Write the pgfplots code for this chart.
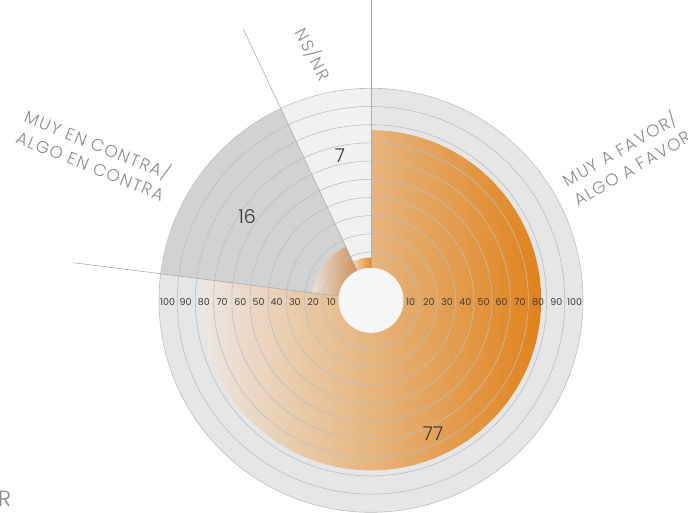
\documentclass[border=0pt]{standalone}
\usepackage{pgfplots}
\pgfplotsset{compat=1.18}
\usepackage{pgfplotstable}
\usepackage{fontspec}
\setmainfont{Poppins}
\newfontfamily\labfont{Poppins Light}[LetterSpace=8]
\newfontfamily\numfont{Poppins Light}

\definecolor{bgFavor}{HTML}{E5E6E8}
\definecolor{bgContra}{HTML}{D1D2D4}
\definecolor{bgNsnr}{HTML}{EFF1F3}
\definecolor{ringc}{HTML}{BEBEBE}
\definecolor{sepc}{HTML}{ABABAB}
\definecolor{holec}{HTML}{F5F6F6}
\definecolor{lightA}{HTML}{ECE8E4}
\definecolor{darkA}{HTML}{E0821B}
\definecolor{lightB}{HTML}{E8E0D8}
\definecolor{darkB}{HTML}{C9782C}
\definecolor{lightC}{HTML}{F2D6B8}
\definecolor{darkC}{HTML}{E68C26}
\definecolor{labc}{HTML}{8C8C8C}
\definecolor{tickc}{HTML}{3C3C3C}
\definecolor{valc}{HTML}{333333}

% share of answers, clockwise from 12 o'clock
\pgfplotstableread{
label  value
favor  77
contra 16
nsnr   7
}\datatable

\begin{document}
\begin{tikzpicture}
\pgfplotstablegetelem{0}{value}\of\datatable \let\vA\pgfplotsretval
\pgfplotstablegetelem{1}{value}\of\datatable \let\vB\pgfplotsretval
\pgfplotstablegetelem{2}{value}\of\datatable \let\vC\pgfplotsretval
% sector ends (deg) and radii (0 -> 30, 100 -> 212)
\pgfmathsetmacro\aA{90-3.6*\vA}
\pgfmathsetmacro\aB{\aA-3.6*\vB}
\pgfmathsetmacro\aC{\aB-3.6*\vC}
\pgfmathsetmacro\rA{30+1.82*\vA}
\pgfmathsetmacro\rB{30+1.82*\vB}
\pgfmathsetmacro\rC{30+1.82*\vC}
\begin{axis}[
  scale only axis, width=688bp, height=520bp,
  xmin=0, xmax=688, ymin=0, ymax=520,
  enlargelimits=false, hide axis,
]
% sector backgrounds
\fill[bgFavor] (371,214) -- ++(90:212bp) arc[start angle=90, end angle=\aA, radius=212bp] -- cycle;
\fill[bgContra] (371,214) -- ++(\aA:212bp) arc[start angle=\aA, end angle=\aB, radius=212bp] -- cycle;
\fill[bgNsnr] (371,214) -- ++(\aB:212bp) arc[start angle=\aB, end angle=\aC, radius=212bp] -- cycle;
% value wedges
\path[left color=lightA, right color=darkA] (371,214) -- ++(90:\rA bp) arc[start angle=90, end angle=\aA, radius=\rA bp] -- cycle;
\path[left color=lightB, right color=darkB] (371,214) -- ++(\aA:\rB bp) arc[start angle=\aA, end angle=\aB, radius=\rB bp] -- cycle;
\path[left color=lightC, right color=darkC] (371,214) -- ++(\aB:\rC bp) arc[start angle=\aB, end angle=\aC, radius=\rC bp] -- cycle;
% rings
\pgfplotsinvokeforeach{1,...,10}{
  \draw[ringc, line width=0.6bp] (371,214) circle[radius={30bp+18.2bp*#1}];
}
% separators
\draw[sepc, line width=0.6bp] (371,214) -- ++(90:300bp);
\draw[sepc, line width=0.6bp] (371,214) -- ++(\aA:300bp);
\draw[sepc, line width=0.6bp] (371,214) -- ++(\aB:300bp);
\fill[holec] (371,214) circle[radius=32.5bp];
% scale labels
\pgfplotsinvokeforeach{1,...,10}{
  \node[tickc, font=\fontsize{9.5bp}{10bp}\selectfont, inner sep=0pt] at (371+21.5+18.2*#1,212) {\number\numexpr#1*10\relax};
  \node[tickc, font=\fontsize{9.5bp}{10bp}\selectfont, inner sep=0pt] at (371-21.5-18.2*#1,212) {\number\numexpr#1*10\relax};
}
% values
\node[valc, font=\numfont\fontsize{19bp}{20bp}\selectfont] at (433,81) {77};
\node[valc, font=\numfont\fontsize{19bp}{20bp}\selectfont] at (247,298) {16};
\node[valc, font=\numfont\fontsize{19bp}{20bp}\selectfont] at (340,359) {7};
% categories
\node[labc, font=\labfont\fontsize{17bp}{22bp}\selectfont, align=left, rotate=30] at (626,357) {MUY A FAVOR/\\ALGO A FAVOR};
\node[labc, font=\labfont\fontsize{17bp}{22bp}\selectfont, align=left, rotate=-22] at (95,360) {MUY EN CONTRA/\\ALGO EN CONTRA};
\node[labc, font=\labfont\fontsize{17bp}{22bp}\selectfont, rotate=-62] at (313,460) {NS/NR};
\node[labc, font=\labfont\fontsize{22bp}{24bp}\selectfont, anchor=south west, inner sep=0pt] at (-2,8) {R};
\end{axis}
\end{tikzpicture}
\end{document}
